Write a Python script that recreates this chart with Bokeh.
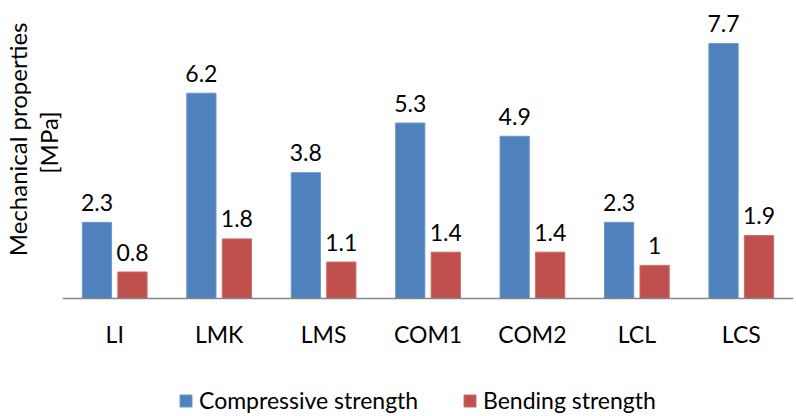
from bokeh.plotting import figure
from bokeh.models import ColumnDataSource, Legend, LegendItem, Range1d, Title
from bokeh.transform import dodge
from bokeh.core.properties import value
from bokeh.embed import file_html
from bokeh.resources import INLINE

# Mechanical test results per mortar mix
mixes = ["LI", "LMK", "LMS", "COM1", "COM2", "LCL", "LCS"]
compressive = [2.3, 6.2, 3.8, 5.3, 4.9, 2.3, 7.7]
bending = [0.8, 1.8, 1.1, 1.4, 1.4, 1.0, 1.9]
compressive_labels = ["2.3", "6.2", "3.8", "5.3", "4.9", "2.3", "7.7"]
bending_labels = ["0.8", "1.8", "1.1", "1.4", "1.4", "1", "1.9"]

FONT = "Lato"
FS = "23px"
BLUE = "#4F81BD"
RED = "#C0504D"

src = ColumnDataSource(dict(
    mix=mixes,
    comp=compressive,
    bend=bending,
    comp_lbl=compressive_labels,
    bend_lbl=bending_labels,
))

# The frame spans the full height; the value axis runs from 0 to 9 over the
# upper part, the lower part holds the category names and the legend.
p = figure(
    x_range=mixes,
    y_range=Range1d(-3.564, 9),
    width=796,
    height=416,
    output_backend="svg",
    toolbar_location=None,
    min_border_left=62,
    min_border_right=3,
    min_border_top=0,
    min_border_bottom=0,
)
p.outline_line_color = None
p.background_fill_color = "white"
p.border_fill_color = "white"
p.xgrid.grid_line_color = None
p.ygrid.grid_line_color = None
p.x_range.range_padding = 0

r_comp = p.vbar(x=dodge("mix", -0.17, range=p.x_range), top="comp", width=0.28,
                source=src, fill_color=BLUE, line_color="#6f97cb", line_width=1)
r_bend = p.vbar(x=dodge("mix", 0.17, range=p.x_range), top="bend", width=0.28,
                source=src, fill_color=RED, line_color="#cb6d6a", line_width=1)

p.text(x=dodge("mix", -0.17, range=p.x_range), y="comp", text="comp_lbl", source=src,
       text_align="center", text_baseline="alphabetic", y_offset=-20,
       text_font=value(FONT), text_font_size=FS, text_color="#000000")
p.text(x=dodge("mix", 0.17, range=p.x_range), y="bend", text="bend_lbl", source=src,
       text_align="center", text_baseline="alphabetic", y_offset=-20,
       text_font=value(FONT), text_font_size=FS, text_color="#000000")

# x axis pinned at zero: category names below a grey baseline
xa = p.xaxis[0]
xa.fixed_location = 0
xa.axis_line_color = "#868686"
xa.axis_line_width = 1.5
xa.major_tick_line_color = None
xa.minor_tick_line_color = None
xa.major_tick_out = 0
xa.major_label_standoff = 22
xa.major_label_text_font = FONT
xa.major_label_text_font_size = FS
xa.major_label_text_color = "#000000"

# y axis carries no ticks; its two-line title is drawn as side titles
p.yaxis.visible = False
title_lines = [("[MPa]", 111), ("Mechanical properties", 22)]
for txt, off in title_lines:
    t = Title(text=txt, align="right", offset=off, text_font=FONT, text_font_size="24px",
              text_font_style="normal", text_color="#000000", standoff=0)
    p.add_layout(t, "left")

leg_common = dict(
    orientation="horizontal",
    border_line_color=None,
    background_fill_alpha=0,
    label_text_font=FONT,
    label_text_font_size=FS,
    label_text_color="#000000",
    glyph_width=15,
    glyph_height=15,
    label_standoff=6,
    padding=0,
    margin=0,
)
p.add_layout(Legend(items=[LegendItem(label="Compressive strength", renderers=[r_comp])],
                    location=(116, 2), **leg_common), "center")
p.add_layout(Legend(items=[LegendItem(label="Bending strength", renderers=[r_bend])],
                    location=(400, 2), **leg_common), "center")

open("out.html", "w").write(file_html(p, INLINE))
